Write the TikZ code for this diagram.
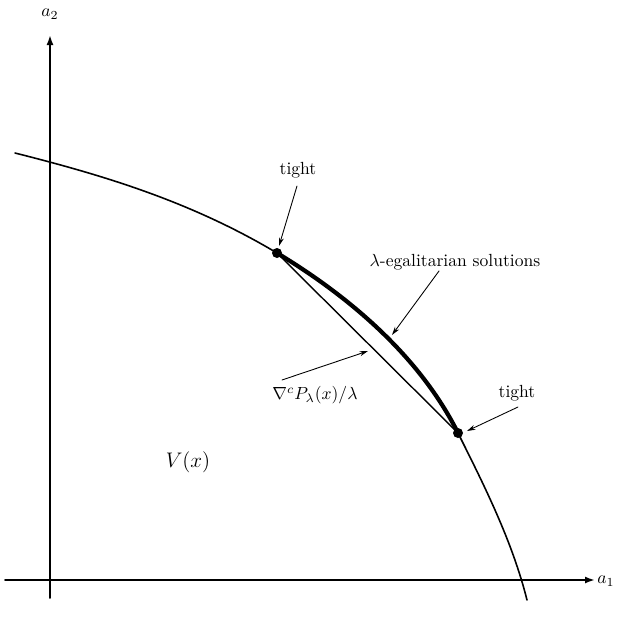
\documentclass[tikz,border=0pt]{standalone}
\usepackage{amsmath,amssymb}
\usepackage{xcolor}
\usepackage{tikz}
\usetikzlibrary{arrows.meta,positioning}
\definecolor{egInk}{HTML}{000000}
\tikzset{
  eg diagram/.style={x=0.2mm, y=-0.2mm, text=egInk,
    line cap=round, line join=round},
  eg axis/.style={-{Latex[length=2mm,width=1.4mm]}, draw=egInk, line width=1.1pt},
  eg curve/.style={draw=egInk, line width=0.9pt},
  eg arc/.style={draw=egInk, line width=2.4pt},
  eg chord/.style={draw=egInk, line width=0.8pt},
  eg pointer/.style={-{Stealth[length=1.7mm,width=1mm]}, draw=egInk, line width=0.5pt},
  eg dot/.style={fill=egInk},
  eg label/.style={inner sep=1pt}
}
\begin{document}
\begin{tikzpicture}[eg diagram]
\useasboundingbox (0,0) rectangle (623,627);
% axes
\coordinate (xstart) at (5,580);
\coordinate (xend) at (595,580);
\coordinate (ystart) at (50,598);
\coordinate (yend) at (50,35);
\draw[eg axis] (xstart) -- (xend);
\draw[eg axis] (ystart) -- (yend);
\node[eg label] (aone) at (606,581) {$a_1$};
\node[eg label] (atwo) at (50,14) {$a_2$};
% boundary of V(x)
\coordinate (vstart) at (15,153);
\coordinate (tightA) at (277,253);
\coordinate (tightB) at (458,433);
\coordinate (vend) at (527,600);
\draw[eg curve] (vstart) .. controls (102,175) and (190,201) .. (tightA)
  .. controls (350,297) and (420,357) .. (tightB)
  .. controls (485,487) and (512.4,541.7) .. (vend);
\draw[eg arc] (tightA) .. controls (350,297) and (420,357) .. (tightB);
\draw[eg chord] (tightA) -- (tightB);
\fill[eg dot] (tightA) circle (5);
\fill[eg dot] (tightB) circle (5);
% labels
\node[eg label] (tightAlbl) at (298,170) {tight};
\node[eg label] (tightBlbl) at (517,393) {tight};
\node[eg label] (egal) at (455,262) {$\lambda$-egalitarian solutions};
\node[eg label] (grad) at (315,395) {$\nabla^c P_\lambda(x)/\lambda$};
\node[eg label, font=\large] (vset) at (188,462) {$V(x)$};
\coordinate (tightAtip) at (279,246);
\coordinate (tightBtip) at (467,431);
\coordinate (egaltip) at (392,335);
\coordinate (gradtip) at (368,351);
\draw[eg pointer] (297,186) -- (tightAtip);
\draw[eg pointer] (518,407) -- (tightBtip);
\draw[eg pointer] (439,271) -- (egaltip);
\draw[eg pointer] (282,380) -- (gradtip);
\end{tikzpicture}
\end{document}
